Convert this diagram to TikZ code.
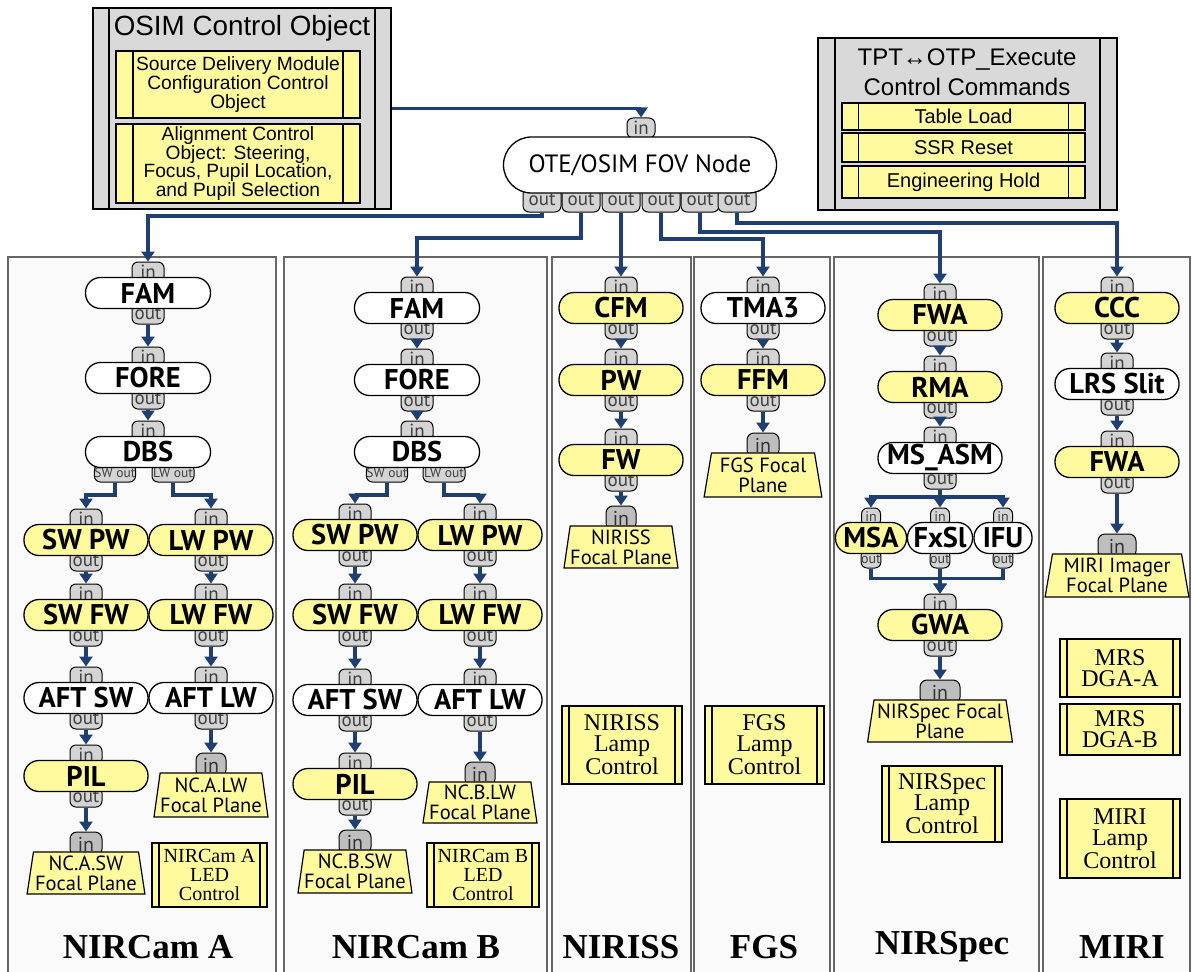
\documentclass[tikz,border=0pt]{standalone}
\usepackage{fontspec}
\setmainfont{Liberation Serif}
\newfontfamily\optfont{PT Sans}
\newfontfamily\arialfont{Liberation Sans}
\usetikzlibrary{arrows.meta,shapes.geometric}

\definecolor{linkblue}{HTML}{1F3F73}
\definecolor{yell}{HTML}{FFFA9E}
\definecolor{tabgray}{HTML}{D4D4D4}
\definecolor{fpgray}{HTML}{BEBEBE}
\definecolor{boxgray}{HTML}{D9D9D9}
\definecolor{panelfill}{HTML}{FAFAFA}

\tikzset{mech/.style 2 args = {
    rectangle,
    rounded corners = 15pt,
    minimum width = #1,
    minimum height = 31pt,
    inner sep = 0pt,
    fill = #2,
    draw = black,
    line width = 1.3pt,
    font = \optfont\bfseries\fontsize{28.5}{28}\selectfont,
}}
\tikzset{port/.style = {
    draw = black,
    line width = 1pt,
    fill = tabgray,
    rounded corners = 6pt,
    inner sep = 0pt,
    minimum width = #1,
    minimum height = 20pt,
    text = black!75,
    font = \optfont\fontsize{19}{19}\selectfont,
  },
  port/.default = 32pt,
  dport/.style = {port = #1, minimum height = 18pt, font = \optfont\fontsize{13.5}{13.5}\selectfont},
  sport/.style = {port = 19pt, minimum height = 18pt, font = \optfont\fontsize{14}{14}\selectfont},
  fpin/.style = {port = #1, fill = fpgray, rounded corners = 7pt, minimum height = 24pt,
    text = black!80, font = \optfont\fontsize{20}{20}\selectfont},
  fplane/.style 2 args = {
    trapezium,
    trapezium left angle = 80,
    trapezium right angle = 80,
    trapezium stretches = true,
    minimum width = #1,
    minimum height = #2,
    inner sep = 0pt,
    fill = yell,
    draw = black,
    line width = 1.2pt,
    align = center,
    font = \optfont\fontsize{20.5}{20}\selectfont,
  },
  cbox/.style 2 args = {
    draw = black,
    line width = 1.2pt,
    fill = #2,
    inner sep = 0pt,
    align = center,
    path picture = {\draw[line width=1.2pt]
      ([xshift=#1]path picture bounding box.north west) -- ([xshift=#1]path picture bounding box.south west)
      ([xshift=-#1]path picture bounding box.north east) -- ([xshift=-#1]path picture bounding box.south east);},
  },
  lamp/.style = {cbox = {7pt}{yell}, font = \fontsize{24}{21}\selectfont},
  led/.style = {cbox = {7pt}{yell}, font = \fontsize{20}{19}\selectfont},
  panel/.style = {draw = black!60, fill = panelfill, line width = 1.2pt},
  colname/.style = {font = \bfseries\fontsize{35}{35}\selectfont},
  link/.style = {draw = linkblue, line width = 3.2pt, -{Triangle[width=13pt,length=10pt]}},
}

\begin{document}
\begin{tikzpicture}[x=1pt,y=-1pt,line width=1pt]
  \useasboundingbox (0,0) rectangle (1193,971);
  % instrument panels
  \foreach \n/\a/\b/\c/\lab in {colA/8/276/148/NIRCam A, colB/284/547/416/NIRCam B,
      colI/552/691/621/NIRISS, colF/694/830/764/FGS, colS/834/1039/942/NIRSpec, colM/1043/1190/1122/MIRI}{
    \draw[panel] (\a,257) rectangle (\b,990);
    \node[colname] (\n) at (\c,947) {\lab};
  }

  % control objects
  \node[cbox={16pt}{boxgray}, minimum width=298pt, minimum height=201pt] (osim) at (242,108.5) {};
  \node[font=\arialfont\fontsize{27.8}{28}\selectfont] (osimT) at (242,28) {OSIM Control Object};
  \node[cbox={17pt}{yell}, minimum width=244pt, minimum height=67pt, font=\arialfont\fontsize{19.2}{18.6}\selectfont]
    (sdm) at (238,84.5) {Source Delivery Module\\Configuration Control\\Object};
  \node[cbox={17pt}{yell}, minimum width=244pt, minimum height=79pt, font=\arialfont\fontsize{19.2}{18.6}\selectfont]
    (aco) at (238,163.5) {Alignment Control\\Object: Steering,\\Focus, Pupil Location,\\and Pupil Selection};
  \node[cbox={17pt}{boxgray}, minimum width=299pt, minimum height=172pt] (tpt) at (967.5,124) {};
  \node[font=\arialfont\fontsize{24}{30}\selectfont, align=center] (tptT) at (967,72) {TPT↔OTP\_Execute\\Control Commands};
  \node[cbox={16.5pt}{yell}, minimum width=243pt, minimum height=27pt, font=\arialfont\fontsize{20}{20}\selectfont]
    (tload) at (963.5,116.5) {Table Load};
  \node[cbox={16.5pt}{yell}, minimum width=243pt, minimum height=29pt, font=\arialfont\fontsize{20}{20}\selectfont]
    (ssr) at (963.5,147.5) {SSR Reset};
  \node[cbox={16.5pt}{yell}, minimum width=243pt, minimum height=32pt, font=\arialfont\fontsize{20}{20}\selectfont]
    (ehold) at (963.5,182) {Engineering Hold};

  % FOV node
  \node[port=28pt] (otei) at (641,128) {in};
  \foreach \k/\x in {1/542,2/581,3/621,4/661,5/700,6/737}
    \node[port=38pt, minimum height=24pt, font=\optfont\fontsize{19}{19}\selectfont] (ote\k) at (\x,200) {out};
  \node[mech={273pt}{white}, minimum height=56pt, rounded corners=28pt,
    font=\optfont\fontsize{25}{25}\selectfont] (ote) at (640,165) {OTE/OSIM FOV Node};

  % mechanisms
  \foreach \n/\x/\y/\w/\f/\lab in {
      famA/148/293/125/white/FAM, foreA/148/378/125/white/FORE,
      swpwA/86/540/124/yell/SW PW, lwpwA/211/540/124/yell/LW PW,
      swfwA/86/615/124/yell/SW FW, lwfwA/211/615/124/yell/LW FW,
      aftswA/86/698/124/white/AFT SW, aftlwA/211/698/124/white/AFT LW,
      pilA/86/776/124/yell/PIL,
      famB/417/308/125/white/FAM, foreB/417/380/125/white/FORE,
      swpwB/355/535/124/yell/SW PW, lwpwB/480/535/124/yell/LW PW,
      swfwB/355/615/124/yell/SW FW, lwfwB/480/615/124/yell/LW FW,
      aftswB/355/700/124/white/AFT SW, aftlwB/480/700/124/white/AFT LW,
      pilB/355/784/124/yell/PIL,
      cfm/621/308/124/yell/CFM, pwI/621/380/124/yell/PW, fwI/621/460/124/yell/FW,
      tma/763/308/124/white/TMA3, ffm/763/380/124/yell/FFM,
      fwaS/940/315/124/yell/FWA, rma/940/387/124/yell/RMA,
      msasm/940/458/124/white/MS\_ASM, gwa/940/625/124/yell/GWA,
      ccc/1117/308/124/yell/CCC, lrs/1117/384/124/white/LRS Slit,
      fwaM/1117/462/124/yell/FWA}{
    \node[port] (\n i) at (\x,\y-21) {in};
    \node[port] (\n o) at (\x,\y+21) {out};
    \node[mech={\w pt}{\f}] (\n) at (\x,\y) {\lab};
  }
  \foreach \n/\x/\sw/\lw in {dbsA/148/115/173, dbsB/417/387/444}{
    \node[port] (\n i) at (\x,431) {in};
    \node[dport=40pt] (\n sw) at (\sw,473) {SW out};
    \node[dport=42pt] (\n lw) at (\lw,473) {LW out};
    \node[mech={125pt}{white}] (\n) at (\x,452) {DBS};
  }
  \foreach \n/\x/\w/\f/\lab in {msa/871/71/yell/MSA, fxsl/940/65/white/FxSl, ifu/1003/58/white/IFU}{
    \node[sport] (\n i) at (\x,517) {in};
    \node[sport] (\n o) at (\x,559) {out};
    \node[mech={\w pt}{\f}] (\n) at (\x,538) {\lab};
  }

  % focal planes
  \foreach \n/\x/\y/\w/\h/\tw/\lab in {
      fpAsw/86/873/118/42/32/{NC.A.SW\\Focal Plane}, fpAlw/211/795/106/44/30/{NC.A.LW\\Focal Plane},
      fpBsw/355/871.5/111/43/32/{NC.B.SW\\Focal Plane}, fpBlw/480/802.5/105/41/30/{NC.B.LW\\Focal Plane},
      fpI/621/547/109/42/30/{NIRISS\\Focal Plane}, fpF/763/475/118/44/32/{FGS Focal\\Plane},
      fpS/940/721/145/42/40/{NIRSpec Focal\\Plane}, fpM/1117/575.5/144/43/38/{MIRI Imager\\Focal Plane}}{
    \node[fpin=\tw pt] (\n i) at (\x,\y-\h/2-8) {in};
    \node[fplane={\w pt}{\h pt}] (\n) at (\x,\y) {\lab};
  }

  % lamps and LEDs
  \node[led, minimum width=115pt, minimum height=64pt] (ledA) at (209.5,875) {NIRCam A\\LED\\Control};
  \node[led, minimum width=112pt, minimum height=64pt] (ledB) at (483,875) {NIRCam B\\LED\\Control};
  \node[lamp, minimum width=120pt, minimum height=78pt] (lampI) at (622,745) {NIRISS\\Lamp\\Control};
  \node[lamp, minimum width=119pt, minimum height=78pt] (lampF) at (764.5,745) {FGS\\Lamp\\Control};
  \node[lamp, minimum width=120pt, minimum height=76pt] (lampS) at (942,804) {NIRSpec\\Lamp\\Control};
  \node[lamp, minimum width=120pt, minimum height=58pt] (dgaA) at (1120,668) {MRS\\DGA-A};
  \node[lamp, minimum width=120pt, minimum height=51pt] (dgaB) at (1120,729.5) {MRS\\DGA-B};
  \node[lamp, minimum width=120pt, minimum height=79pt] (lampM) at (1120,838.5) {MIRI\\Lamp\\Control};

  % connectors
  \draw[link] (osim.east) -| (otei);
  \draw[link] (ote1) -- ++(0,16) -| (famAi);
  \draw[link] (ote2) -- ++(0,38) -| (famBi);
  \draw[link] (ote4) -- ++(0,39) -| (tmai);
  \draw[link] (ote5) -- ++(0,32) -| (fwaSi);
  \draw[link] (ote6) -- ++(0,23) -| (ccci);
  \draw[link] (dbsAsw) -- ++(0,22) -| (swpwAi);
  \draw[link] (dbsAlw) -- ++(0,22) -| (lwpwAi);
  \draw[link] (dbsBsw) -- ++(0,22) -| (swpwBi);
  \draw[link] (dbsBlw) -- ++(0,22) -| (lwpwBi);
  \draw[link] (msasmo) -- ++(0,18) -| (msai);
  \draw[link] (msasmo) -- ++(0,18) -| (ifui);
  \draw[link] (msao) -- ++(0,19.5) -| (gwai);
  \draw[link] (ifuo) -- ++(0,19.5) -| (gwai);
  \foreach \a/\b in {famAo/foreAi, foreAo/dbsAi, swpwAo/swfwAi, swfwAo/aftswAi, aftswAo/pilAi,
      pilAo/fpAswi, lwpwAo/lwfwAi, lwfwAo/aftlwAi, aftlwAo/fpAlwi,
      famBo/foreBi, foreBo/dbsBi, swpwBo/swfwBi, swfwBo/aftswBi, aftswBo/pilBi,
      pilBo/fpBswi, lwpwBo/lwfwBi, lwfwBo/aftlwBi, aftlwBo/fpBlwi,
      ote3/cfmi, cfmo/pwIi, pwIo/fwIi, fwIo/fpIi, tmao/ffmi, ffmo/fpFi,
      fwaSo/rmai, rmao/msasmi, msasmo/fxsli, fxslo/gwai, gwao/fpSi,
      ccco/lrsi, lrso/fwaMi, fwaMo/fpMi}
    \draw[link] (\a) -- (\b);
\end{tikzpicture}
\end{document}
